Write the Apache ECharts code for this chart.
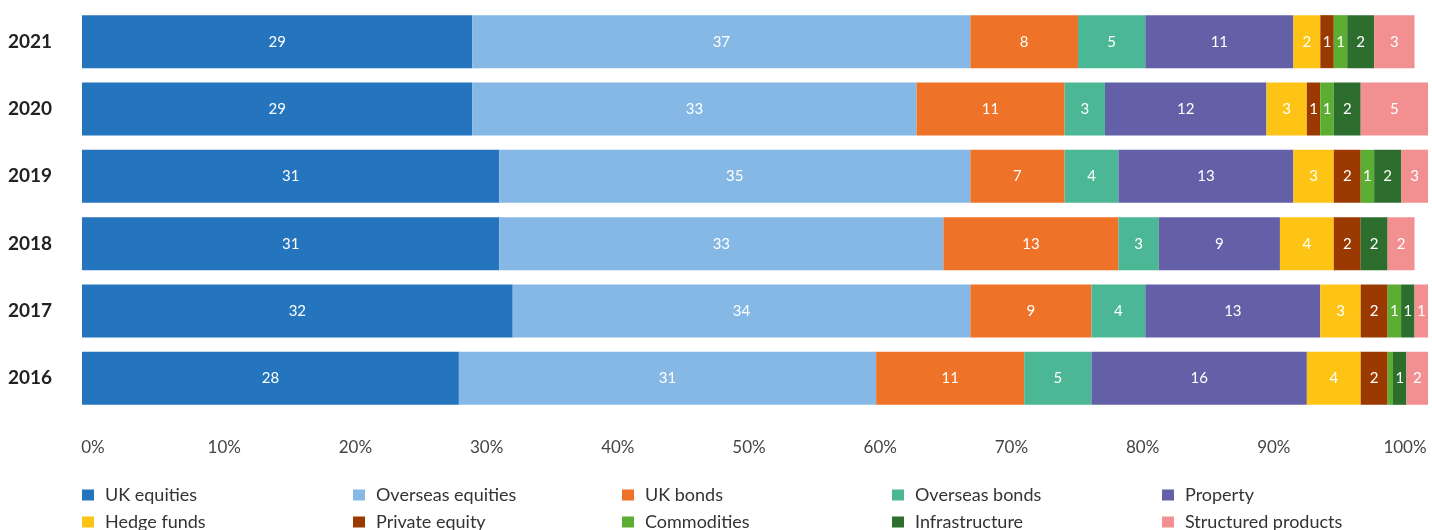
<!DOCTYPE html>
<html>
<head>
<meta charset="utf-8">
<script src="https://cdn.jsdelivr.net/npm/echarts@6/dist/echarts.min.js"></script>
<style>
  html, body { margin: 0; padding: 0; background: #ffffff; }
  #chart { width: 1432px; height: 530px; }
</style>
</head>
<body>
<div id="chart"></div>
<script>
// Asset allocation by year, percent of total
const years = ['2021', '2020', '2019', '2018', '2017', '2016'];
const assetClasses = ['UK equities', 'Overseas equities', 'UK bonds', 'Overseas bonds', 'Property',
  'Hedge funds', 'Private equity', 'Commodities', 'Infrastructure', 'Structured products'];

const ukEquities         = [29, 29, 31, 31, 32, 28];
const overseasEquities   = [37, 33, 35, 33, 34, 31];
const ukBonds            = [8, 11, 7, 13, 9, 11];
const overseasBonds      = [5, 3, 4, 3, 4, 5];
const property           = [11, 12, 13, 9, 13, 16];
const hedgeFunds         = [2, 3, 3, 4, 3, 4];
const privateEquity      = [1, 1, 2, 2, 2, 2];
const commodities        = [1, 1, 1, 0, 1, 0.4];
const infrastructure     = [2, 2, 2, 2, 1, 1];
const structuredProducts = [3, 5, 3, 2, 1, 2];

const percentTicks = ['0%', '10%', '20%', '30%', '40%', '50%', '60%', '70%', '80%', '90%', '100%'];

const seriesValues = [ukEquities, overseasEquities, ukBonds, overseasBonds, property,
  hedgeFunds, privateEquity, commodities, infrastructure, structuredProducts];
const palette = ['#2475bd', '#85b8e5', '#ee7329', '#4bb794', '#6360a8',
  '#fdc415', '#9a3a00', '#5cae32', '#2d6e2f', '#f28f91'];

const FONT = 'Lato, "Open Sans", sans-serif';

const chart = echarts.init(document.getElementById('chart'), null, { renderer: 'canvas' });

const series = assetClasses.map((name, i) => ({
  name,
  type: 'bar',
  stack: 'total',
  barWidth: 53,
  xAxisIndex: 0,
  yAxisIndex: 0,
  data: seriesValues[i],
  itemStyle: { color: palette[i] },
  label: {
    show: true,
    position: 'inside',
    color: '#ffffff',
    fontFamily: FONT,
    fontSize: 15,
    formatter: p => (p.value >= 0.5 ? String(p.value) : '')
  },
  emphasis: { disabled: true }
}));

// Five legend columns, two rows each
const legendCols = [82, 353, 622, 892, 1162];
const legends = legendCols.map((x, c) => ({
  orient: 'vertical',
  left: x - 5,
  top: 481,
  height: 90,
  itemWidth: 12,
  itemHeight: 11,
  itemGap: 9,
  icon: 'rect',
  selectedMode: false,
  data: [assetClasses[c], assetClasses[c + 5]],
  textStyle: { fontFamily: FONT, fontSize: 18, color: '#333333', padding: [0, 0, 0, 6] }
}));

chart.setOption({
  animation: false,
  backgroundColor: '#ffffff',
  legend: legends,
  grid: [
    { left: 82, right: 4, top: 8, bottom: 118 },
    // percent scale labels run between the first and last label centres
    { left: 93, right: 27, top: 8, bottom: 118 }
  ],
  xAxis: [
    {
      gridIndex: 0,
      type: 'value',
      min: 0,
      max: 100,
      interval: 10,
      axisLine: { show: false },
      axisTick: { show: false },
      splitLine: { show: false },
      axisLabel: { show: false }
    },
    {
      gridIndex: 1,
      type: 'category',
      data: percentTicks,
      boundaryGap: false,
      axisLine: { show: false },
      axisTick: { show: false },
      splitLine: { show: false },
      axisLabel: {
        margin: 27,
        interval: 0,
        fontFamily: FONT,
        fontSize: 17,
        color: '#444444'
      }
    }
  ],
  yAxis: [
    {
      gridIndex: 0,
      type: 'category',
      data: years,
      inverse: true,
      axisLine: { show: false },
      axisTick: { show: false },
      axisLabel: {
        margin: 30,
        fontFamily: FONT,
        fontSize: 19,
        fontWeight: 'bold',
        color: '#222222'
      }
    },
    {
      gridIndex: 1,
      type: 'value',
      show: false
    }
  ],
  series
});
</script>
</body>
</html>
